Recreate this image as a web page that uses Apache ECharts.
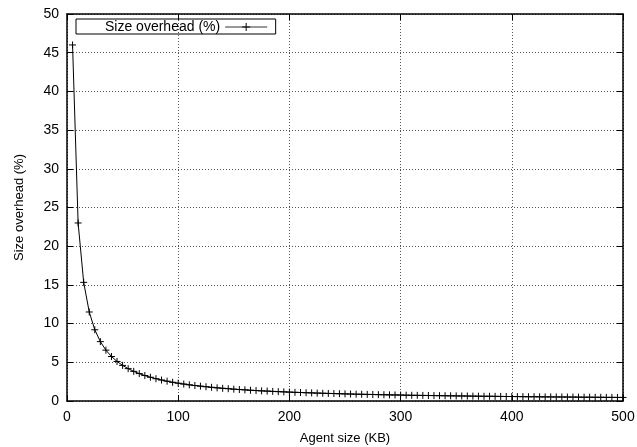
<!DOCTYPE html>
<html>
<head>
<meta charset="utf-8">
<script src="https://cdn.jsdelivr.net/npm/echarts@6/dist/echarts.min.js"></script>
<style>
html, body { margin: 0; padding: 0; background: #fff; }
#chart { width: 637px; height: 447px; }
</style>
</head>
<body>
<div id="chart"></div>
<script>
// agent size in KB
var agentSize = [5, 10, 15, 20, 25, 30, 35, 40, 45, 50,
  55, 60, 65, 70, 75, 80, 85, 90, 95, 100,
  105, 110, 115, 120, 125, 130, 135, 140, 145, 150,
  155, 160, 165, 170, 175, 180, 185, 190, 195, 200,
  205, 210, 215, 220, 225, 230, 235, 240, 245, 250,
  255, 260, 265, 270, 275, 280, 285, 290, 295, 300,
  305, 310, 315, 320, 325, 330, 335, 340, 345, 350,
  355, 360, 365, 370, 375, 380, 385, 390, 395, 400,
  405, 410, 415, 420, 425, 430, 435, 440, 445, 450,
  455, 460, 465, 470, 475, 480, 485, 490, 495, 500];

// size overhead in %
var overhead = [46.00, 23.00, 15.33, 11.50, 9.20, 7.67, 6.57, 5.75, 5.11, 4.60,
  4.18, 3.83, 3.54, 3.29, 3.07, 2.88, 2.71, 2.56, 2.42, 2.30,
  2.19, 2.09, 2.00, 1.92, 1.84, 1.77, 1.70, 1.64, 1.59, 1.53,
  1.48, 1.44, 1.39, 1.35, 1.31, 1.28, 1.24, 1.21, 1.18, 1.15,
  1.12, 1.10, 1.07, 1.05, 1.02, 1.00, 0.98, 0.96, 0.94, 0.92,
  0.90, 0.88, 0.87, 0.85, 0.84, 0.82, 0.81, 0.79, 0.78, 0.77,
  0.75, 0.74, 0.73, 0.72, 0.71, 0.70, 0.69, 0.68, 0.67, 0.66,
  0.65, 0.64, 0.63, 0.62, 0.61, 0.61, 0.60, 0.59, 0.58, 0.58,
  0.57, 0.56, 0.55, 0.55, 0.54, 0.53, 0.53, 0.52, 0.52, 0.51,
  0.51, 0.50, 0.49, 0.49, 0.48, 0.48, 0.47, 0.47, 0.46, 0.46];

var seriesName = 'Size overhead (%)';
var xName = 'Agent size (KB)';
var yName = 'Size overhead (%)';

var points = [];
for (var i = 0; i < agentSize.length; i++) {
  points.push([agentSize[i], overhead[i]]);
}

var font = 'Liberation Sans, Arial, sans-serif';
var plus = 'path://M0,5L10,5M5,0L5,10';

var myChart = echarts.init(document.getElementById('chart'));

var axisLine = { show: true, onZero: false, lineStyle: { color: '#000', width: 1.5 } };
var axisTick = { show: true, inside: true, length: 6, lineStyle: { color: '#000', width: 1 } };
var gridLine = { show: true, lineStyle: { color: '#555', type: [1, 2], width: 1 } };

// top and right axes only repeat the ticks, like gnuplot does
var mirrorAxis = {
  axisLine: axisLine,
  axisTick: axisTick,
  axisLabel: { show: false },
  splitLine: { show: false }
};

var option = {
  animation: false,
  backgroundColor: '#fff',
  textStyle: { fontFamily: font },
  grid: { left: 67, top: 14, right: 14, bottom: 46, containLabel: false, outerBoundsMode: 'none' },
  legend: {
    left: 76,
    top: 19,
    align: 'right',
    itemWidth: 42,
    itemHeight: 10,
    padding: [1, 8, 0, 29],
    borderColor: '#000',
    borderWidth: 1,
    borderRadius: 0,
    lineStyle: { width: 1, color: '#333' },
    itemStyle: { borderWidth: 1 },
    textStyle: { fontFamily: font, fontSize: 14, color: '#000' },
    data: [seriesName]
  },
  xAxis: [{
    type: 'value',
    min: 0, max: 500, interval: 100,
    name: xName,
    nameLocation: 'middle',
    nameGap: 31,
    nameTextStyle: { fontFamily: font, fontSize: 13, color: '#000' },
    axisLine: axisLine,
    axisTick: axisTick,
    axisLabel: { fontFamily: font, fontSize: 14, color: '#000', margin: 9 },
    splitLine: gridLine
  }, Object.assign({
    type: 'value', position: 'top', min: 0, max: 500, interval: 100
  }, mirrorAxis)],
  yAxis: [{
    type: 'value',
    min: 0, max: 50, interval: 5,
    name: yName,
    nameLocation: 'middle',
    nameGap: 41,
    nameTextStyle: { fontFamily: font, fontSize: 13, color: '#000' },
    axisLine: axisLine,
    axisTick: axisTick,
    axisLabel: { fontFamily: font, fontSize: 14, color: '#000', margin: 8 },
    splitLine: gridLine
  }, Object.assign({
    type: 'value', position: 'right', min: 0, max: 50, interval: 5
  }, mirrorAxis)],
  series: [{
    name: seriesName,
    type: 'line',
    data: points,
    symbol: plus,
    symbolSize: 7,
    showAllSymbol: true,
    lineStyle: { color: '#000', width: 1 },
    itemStyle: { color: '#000', borderColor: '#000', borderWidth: 1 }
  }]
};

myChart.setOption(option);
</script>
</body>
</html>
